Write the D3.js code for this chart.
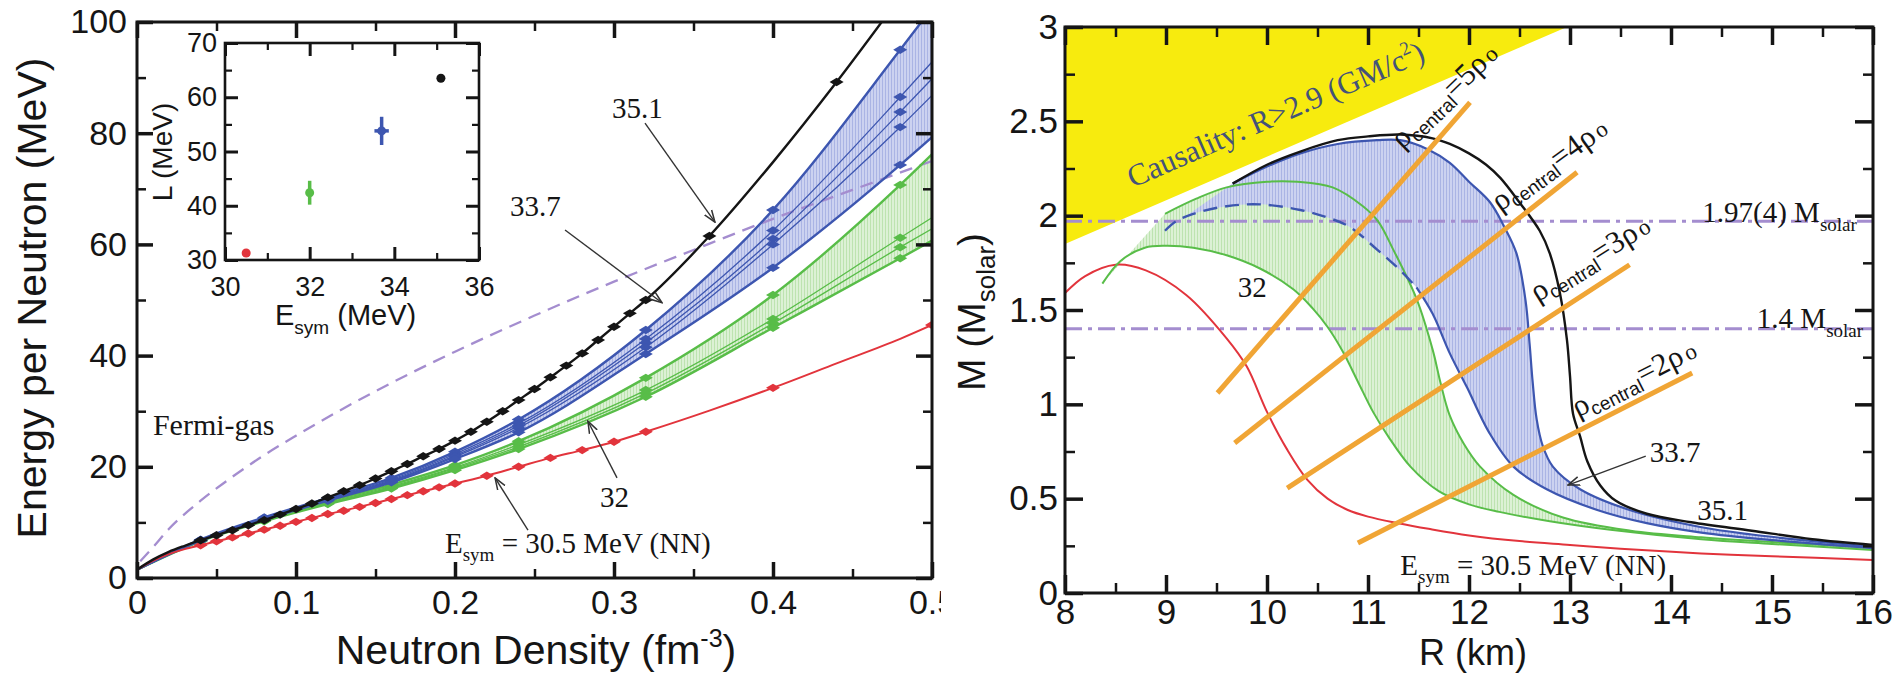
<!DOCTYPE html>
<html>
<head>
<meta charset="utf-8">
<script src="https://cdn.jsdelivr.net/npm/d3@7"></script>
<style>
  body { margin: 0; background: #fff; }
  svg { display: block; }
  .sans { font-family: "Liberation Sans", Arial, Helvetica, sans-serif; }
  .serif { font-family: "Liberation Serif", "Times New Roman", serif; }
  text { fill: #151515; }
</style>
</head>
<body>
<svg id="fig" width="1901" height="678"></svg>
<script>
// ===== Left panel: energy per neutron vs neutron density =====
const densityTicks = [0, 0.1, 0.2, 0.3, 0.4, 0.5];
const densityMinor = [0.05, 0.15, 0.25, 0.35, 0.45];
const energyTicks = [0, 20, 40, 60, 80, 100];
const energyMinor = [10, 30, 50, 70, 90];

// Esym = 35.1 MeV
const blackN = [0, 0.01, 0.02, 0.03, 0.04, 0.05, 0.06, 0.07, 0.08, 0.09, 0.10, 0.11, 0.12, 0.13,
  0.14, 0.15, 0.16, 0.17, 0.18, 0.19, 0.20, 0.21, 0.22, 0.23, 0.24, 0.25, 0.26, 0.27, 0.28,
  0.29, 0.30, 0.31, 0.32, 0.36, 0.40, 0.44, 0.48];
const blackE = [1.5, 3.3, 4.7, 5.8, 6.8, 7.7, 8.6, 9.5, 10.4, 11.4, 12.4, 13.4, 14.5, 15.6,
  16.7, 17.9, 19.2, 20.5, 21.9, 23.2, 24.7, 26.3, 28.1, 30.0, 32.0, 34.0, 36.1, 38.2, 40.4,
  42.8, 45.2, 47.6, 50.0, 61.5, 74.8, 89.2, 104.5];
const blackMarkN = [0.04, 0.05, 0.06, 0.07, 0.08, 0.09, 0.10, 0.11, 0.12, 0.13, 0.14, 0.15,
  0.16, 0.17, 0.18, 0.19, 0.20, 0.21, 0.22, 0.23, 0.24, 0.25, 0.26, 0.27, 0.28, 0.29, 0.30,
  0.31, 0.32, 0.36, 0.44];

// Esym = 30.5 MeV (NN only)
const redN = [0, 0.01, 0.02, 0.03, 0.04, 0.05, 0.06, 0.07, 0.08, 0.09, 0.10, 0.11, 0.12, 0.13,
  0.14, 0.15, 0.16, 0.17, 0.18, 0.19, 0.20, 0.22, 0.24, 0.26, 0.28, 0.30, 0.32, 0.36, 0.40,
  0.44, 0.48, 0.50];
const redE = [1.5, 3.1, 4.3, 5.2, 5.9, 6.6, 7.3, 8.0, 8.7, 9.4, 10.1, 10.8, 11.5, 12.1,
  12.8, 13.5, 14.2, 14.9, 15.6, 16.3, 17.0, 18.4, 20.0, 21.6, 23.0, 24.5, 26.3, 30.1, 34.2,
  38.6, 43.0, 45.5];
const redMarkN = [0.04, 0.05, 0.06, 0.07, 0.08, 0.09, 0.10, 0.11, 0.12, 0.13, 0.14, 0.15,
  0.16, 0.17, 0.18, 0.19, 0.20, 0.22, 0.24, 0.26, 0.28, 0.30, 0.32, 0.40, 0.50];

// Esym = 33.7 (blue) and 32 (green) bands: common density grid
const bandN = [0, 0.04, 0.08, 0.12, 0.16, 0.20, 0.24, 0.32, 0.40, 0.48, 0.50];
const bandMarkN = [0.04, 0.08, 0.12, 0.16, 0.20, 0.24, 0.32, 0.40, 0.48];
const blueTop = [1.5, 6.9, 10.9, 14.4, 18.0, 22.7, 28.5, 44.6, 66.2, 95.0, 102.5];
const blueM1  = [1.5, 6.8, 10.8, 14.2, 17.7, 22.3, 27.8, 43.0, 62.5, 86.5, 92.8];
const blueM2  = [1.5, 6.8, 10.7, 14.1, 17.5, 22.0, 27.4, 42.3, 61.0, 83.8, 89.8];
const blueM3  = [1.5, 6.7, 10.6, 14.0, 17.4, 21.8, 27.0, 41.5, 60.0, 81.1, 86.8];
const blueBot = [1.5, 6.7, 10.5, 13.9, 17.2, 21.4, 26.2, 40.3, 55.8, 74.3, 79.3];
const greenTop = [1.5, 6.8, 10.6, 13.8, 16.8, 20.3, 24.6, 36.0, 50.9, 70.7, 76.2];
const greenM1  = [1.5, 6.7, 10.4, 13.6, 16.5, 19.9, 24.0, 33.8, 46.6, 61.2, 64.8];
const greenM2  = [1.5, 6.6, 10.3, 13.4, 16.3, 19.7, 23.6, 33.2, 45.8, 59.5, 62.8];
const greenBot = [1.5, 6.6, 10.2, 13.3, 16.1, 19.4, 23.2, 32.6, 45.0, 57.5, 60.7];

// Free Fermi gas
const fermiN = [0.002, 0.01, 0.02, 0.04, 0.06, 0.08, 0.10, 0.15, 0.20, 0.25, 0.30, 0.35, 0.40, 0.45, 0.50];
const fermiE = [3.0, 5.5, 8.8, 13.9, 18.2, 22.1, 25.6, 33.6, 40.7, 47.2, 53.3, 59.0, 64.6, 69.8, 75.0];

// Inset: slope L vs symmetry energy
const insetEsym = [30.5, 32.0, 33.7, 35.1];
const insetL = [31.3, 42.4, 53.8, 63.5];
const insetLerr = [0, 2.2, 2.6, 0];
const insetEerr = [0, 0.05, 0.17, 0];
const insetXTicks = [30, 32, 34, 36];
const insetXMinor = [31, 33, 35];
const insetYTicks = [30, 40, 50, 60, 70];
const insetYMinor = [35, 45, 55, 65];

// ===== Right panel: mass-radius relations =====
const radiusTicks = [8, 9, 10, 11, 12, 13, 14, 15, 16];
const radiusMinor = [8.5, 9.5, 10.5, 11.5, 12.5, 13.5, 14.5, 15.5];
const massTicks = [0, 0.5, 1, 1.5, 2, 2.5, 3];
const massMinor = [0.25, 0.75, 1.25, 1.75, 2.25, 2.75];

const mrRedR = [8.0, 8.2, 8.5, 8.8, 9.2, 9.6, 9.8, 10.0, 10.2, 10.4, 10.6, 10.8, 11.0, 11.3,
  11.6, 12.0, 12.5, 13.0, 13.5, 14.3, 15.0, 16.0];
const mrRedM = [1.59, 1.68, 1.74, 1.71, 1.58, 1.35, 1.20, 0.96, 0.76, 0.60, 0.50, 0.44, 0.405,
  0.37, 0.34, 0.305, 0.275, 0.255, 0.235, 0.21, 0.195, 0.175];

const mrGreenLoR = [8.37, 8.55, 8.79, 9.0, 9.27, 9.6, 9.93, 10.26, 10.45, 10.6, 10.75, 10.9,
  11.05, 11.2, 11.42, 11.7, 12.0, 12.3, 12.8, 13.4, 14.3, 15.0, 16.0];
const mrGreenLoM = [1.64, 1.76, 1.83, 1.84, 1.83, 1.79, 1.72, 1.61, 1.51, 1.41, 1.28, 1.12,
  0.96, 0.83, 0.67, 0.54, 0.47, 0.43, 0.38, 0.335, 0.285, 0.26, 0.228];
const mrGreenHiR = [8.99, 9.3, 9.6, 10.0, 10.3, 10.65, 10.95, 11.1, 11.25, 11.48, 11.64, 11.72,
  11.81, 11.95, 12.11, 12.44, 12.93, 13.6, 14.3, 15.0, 16.0];
const mrGreenHiM = [2.01, 2.09, 2.15, 2.18, 2.18, 2.15, 2.05, 1.97, 1.82, 1.56, 1.29, 1.11,
  0.94, 0.79, 0.67, 0.52, 0.40, 0.33, 0.295, 0.27, 0.24];

const mrBlueDashR = [8.99, 9.1, 9.27, 9.6, 9.93, 10.33, 10.6, 10.82, 11.09, 11.3, 11.48];
const mrBlueDashM = [1.92, 1.97, 2.01, 2.05, 2.06, 2.03, 1.99, 1.94, 1.82, 1.72, 1.62];
const mrBlueInR = [11.48, 11.64, 11.81, 11.98, 12.2, 12.44, 12.77, 13.27, 13.76, 14.3, 15.0, 16.0];
const mrBlueInM = [1.62, 1.48, 1.27, 1.09, 0.85, 0.67, 0.55, 0.44, 0.37, 0.32, 0.28, 0.238];
const mrBlueOutR = [9.66, 10.0, 10.33, 10.7, 11.09, 11.32, 11.6, 11.81, 12.0, 12.21, 12.35,
  12.47, 12.56, 12.6, 12.63, 12.67, 12.73, 12.83, 13.1, 13.59, 14.29, 14.8, 15.4, 16.0];
const mrBlueOutM = [2.17, 2.26, 2.33, 2.38, 2.40, 2.40, 2.35, 2.28, 2.18, 2.07, 1.94, 1.80,
  1.55, 1.32, 1.12, 0.92, 0.78, 0.67, 0.55, 0.44, 0.35, 0.31, 0.275, 0.245];

const mrBlackR = [9.66, 10.0, 10.33, 10.7, 11.0, 11.32, 11.64, 11.81, 12.0, 12.17, 12.31, 12.5,
  12.7, 12.8, 12.9, 12.97, 13.0, 13.03, 13.1, 13.17, 13.3, 13.45, 13.76, 14.2, 14.8, 15.4, 16.0];
const mrBlackM = [2.17, 2.27, 2.34, 2.40, 2.42, 2.43, 2.41, 2.38, 2.33, 2.27, 2.20, 2.07,
  1.92, 1.80, 1.59, 1.34, 1.15, 0.95, 0.83, 0.70, 0.57, 0.49, 0.42, 0.375, 0.33, 0.285, 0.255];

// causality limit R > 2.9 GM/c^2
const causalR = [8, 12.97, 8];
const causalM = [1.85, 3.0, 3.0];

// observed masses
const obsMass = [1.97, 1.4];
const obsLabel = ["1.97(4) M", "1.4 M"];

// lines of constant central density
const rhoMultiple = ["5", "4", "3", "2"];
const rhoStartR = [9.51, 9.68, 10.2, 10.9];
const rhoStartM = [1.06, 0.795, 0.556, 0.265];
const rhoEndR = [12.01, 13.07, 13.59, 14.21];
const rhoEndM = [2.60, 2.23, 1.74, 1.166];

// ---------------------------------------------------------------
const zip = (a, b) => a.map((v, i) => [v, b[i]]);
const pick = (N, E, marks) => marks.map(m => {
  const i = N.findIndex(v => Math.abs(v - m) < 1e-9);
  return [N[i], E[i]];
});

const BLUE = "#3d56b0", GREEN = "#58bd48", RED = "#e2343c", INK = "#151515";
const LAV = "#a48dcf", ORANGE = "#f0a535";

const svg = d3.select("#fig");
svg.append("rect").attr("width", 1901).attr("height", 678).attr("fill", "#fff");
const defs = svg.append("defs");

function hatch(id, bg, fg) {
  const p = defs.append("pattern").attr("id", id).attr("patternUnits", "userSpaceOnUse")
    .attr("width", 3).attr("height", 3);
  p.append("rect").attr("width", 3).attr("height", 3).attr("fill", bg);
  p.append("rect").attr("width", 1).attr("height", 3).attr("fill", fg);
}
hatch("hatchBlue", "#ccd2f0", "#aab4e4");
hatch("hatchGreen", "#dcf1d5", "#bde3b0");

function clip(id, x, y, w, h) {
  defs.append("clipPath").attr("id", id).append("rect")
    .attr("x", x).attr("y", y).attr("width", w).attr("height", h);
}

defs.append("marker").attr("id", "arrow").attr("viewBox", "0 0 12 10")
  .attr("refX", 11).attr("refY", 5).attr("markerWidth", 13).attr("markerHeight", 11)
  .attr("markerUnits", "userSpaceOnUse").attr("orient", "auto")
  .append("path").attr("d", "M0,1 L11,5 L0,9").attr("fill", "none")
  .attr("stroke", "#333").attr("stroke-width", 1.4);

function drawAxes(g, x, y, spec) {
  const [xa, xb] = x.range(), [ya, yb] = y.range();
  const sides = [
    { gen: d3.axisBottom, s: x, t: `translate(0,${ya})`, maj: spec.xMaj, min: spec.xMin, lab: true, pad: spec.xPad },
    { gen: d3.axisTop, s: x, t: `translate(0,${yb})`, maj: spec.xMaj, min: spec.xMin, lab: false },
    { gen: d3.axisLeft, s: y, t: `translate(${xa},0)`, maj: spec.yMaj, min: spec.yMin, lab: true, pad: spec.yPad },
    { gen: d3.axisRight, s: y, t: `translate(${xb},0)`, maj: spec.yMaj, min: spec.yMin, lab: false }
  ];
  sides.forEach(sd => {
    const major = sd.gen(sd.s).tickValues(sd.maj).tickSizeInner(-spec.majLen).tickSizeOuter(0)
      .tickPadding(sd.lab ? sd.pad : 0).tickFormat(sd.lab ? (d => String(d)) : () => "");
    const minor = sd.gen(sd.s).tickValues(sd.min).tickSizeInner(-spec.minLen).tickSizeOuter(0)
      .tickFormat(() => "");
    const ga = g.append("g").attr("transform", sd.t).call(major);
    const gm = g.append("g").attr("transform", sd.t).call(minor);
    [ga, gm].forEach(a => {
      a.select(".domain").remove();
      a.attr("font-family", '"Liberation Sans", Arial, sans-serif')
        .attr("font-size", spec.font).attr("color", INK);
    });
    ga.selectAll("line").attr("stroke-width", spec.majW);
    gm.selectAll("line").attr("stroke-width", spec.minW);
  });
  g.append("rect").attr("x", xa).attr("y", yb).attr("width", xb - xa).attr("height", ya - yb)
    .attr("fill", "none").attr("stroke", INK).attr("stroke-width", spec.frameW);
}

function subText(g, x, y, size, cls, parts) {
  // parts: [text, shift] where shift >0 lowers (subscript), <0 raises (superscript)
  const t = g.append("text").attr("class", cls).attr("x", x).attr("y", y).attr("font-size", size);
  let cur = 0;
  parts.forEach(([s, sh, fs]) => {
    const sp = t.append("tspan").text(s).attr("dy", sh - cur);
    if (fs) sp.attr("font-size", fs);
    cur = sh;
  });
  return t;
}

// ================= LEFT PANEL =================
const xL = d3.scaleLinear().domain([0, 0.5]).range([137, 932]);
const yL = d3.scaleLinear().domain([0, 100]).range([578, 22]);
clip("clipPanelL", 0, 0, 941, 678);
clip("clipPlotL", 137, 22, 795, 556);

const left = svg.append("g").attr("clip-path", "url(#clipPanelL)");
const plotL = left.append("g").attr("clip-path", "url(#clipPlotL)");

const lineL = d3.line().x(d => xL(d[0])).y(d => yL(d[1])).curve(d3.curveMonotoneX);
const bandArea = (top, bot) => d3.area()
  .x(d => xL(d)).y0((d, i) => yL(bot[i])).y1((d, i) => yL(top[i]))
  .curve(d3.curveMonotoneX)(bandN);

plotL.append("path").attr("d", bandArea(greenTop, greenBot)).attr("fill", "url(#hatchGreen)");
plotL.append("path").attr("d", bandArea(blueTop, blueBot)).attr("fill", "url(#hatchBlue)");

plotL.append("path").attr("d", lineL(zip(fermiN, fermiE))).attr("fill", "none")
  .attr("stroke", LAV).attr("stroke-width", 2.3).attr("stroke-dasharray", "13,8");

function marks(g, pts, color) {
  g.append("g").selectAll("path").data(pts).join("path")
    .attr("d", "M-7,0 L0,-4.2 L7,0 L0,4.2 Z")
    .attr("transform", d => `translate(${xL(d[0])},${yL(d[1])})`)
    .attr("fill", color);
}

function band(lines, widths, color) {
  lines.forEach((E, k) => {
    plotL.append("path").attr("d", lineL(zip(bandN, E))).attr("fill", "none")
      .attr("stroke", color).attr("stroke-width", widths[k]);
  });
  lines.forEach(E => marks(plotL, pick(bandN, E, bandMarkN), color));
}
band([greenTop, greenM1, greenM2, greenBot], [2.4, 1.3, 1.3, 2.4], GREEN);
band([blueTop, blueM1, blueM2, blueM3, blueBot], [2.4, 1.3, 1.3, 1.3, 2.4], BLUE);

plotL.append("path").attr("d", lineL(zip(redN, redE))).attr("fill", "none")
  .attr("stroke", RED).attr("stroke-width", 2);
marks(plotL, pick(redN, redE, redMarkN), RED);

plotL.append("path").attr("d", lineL(zip(blackN, blackE))).attr("fill", "none")
  .attr("stroke", INK).attr("stroke-width", 2.4);
marks(plotL, pick(blackN, blackE, blackMarkN), INK);

drawAxes(left, xL, yL, {
  xMaj: densityTicks, xMin: densityMinor, yMaj: energyTicks, yMin: energyMinor,
  majLen: 16, minLen: 9, majW: 3.5, minW: 2.5, frameW: 3, font: 34, xPad: 12, yPad: 10
});

// annotations
const ann = left.append("g");
function arrowL(n0, e0, n1, e1) {
  ann.append("line").attr("x1", xL(n0)).attr("y1", yL(e0)).attr("x2", xL(n1)).attr("y2", yL(e1))
    .attr("stroke", "#333").attr("stroke-width", 1.4).attr("marker-end", "url(#arrow)");
}
ann.append("text").attr("class", "serif").attr("font-size", 29)
  .attr("x", xL(0.2987)).attr("y", yL(82.7)).text("35.1");
arrowL(0.3195, 81.8, 0.3635, 64.0);
ann.append("text").attr("class", "serif").attr("font-size", 29)
  .attr("x", xL(0.2346)).attr("y", yL(65.1)).text("33.7");
arrowL(0.2692, 62.6, 0.3302, 49.5);
ann.append("text").attr("class", "serif").attr("font-size", 29)
  .attr("x", xL(0.2912)).attr("y", yL(12.8)).text("32");
arrowL(0.3019, 18.0, 0.2836, 28.2);
subText(ann, xL(0.1937), yL(4.5), 29, "serif",
  [["E", 0], ["sym", 8, 19], [" = 30.5 MeV (NN)", 0]]);
arrowL(0.2459, 8.6, 0.2252, 18.0);
ann.append("text").attr("class", "serif").attr("font-size", 30)
  .attr("x", xL(0.01)).attr("y", yL(25.7)).text("Fermi-gas");

// axis titles
left.append("text").attr("class", "sans").attr("font-size", 41).attr("text-anchor", "middle")
  .attr("transform", "translate(46,298) rotate(-90)").text("Energy per Neutron (MeV)");
subText(left, 536, 664, 41, "sans", [["Neutron Density (fm", 0], ["-3", -17, 25], [")", 0]])
  .attr("text-anchor", "middle");

// ---- inset ----
const xI = d3.scaleLinear().domain([30, 36]).range([225, 479]);
const yI = d3.scaleLinear().domain([30, 70]).range([260, 43]);
const inset = left.append("g");
inset.append("rect").attr("x", 225).attr("y", 43).attr("width", 254).attr("height", 217).attr("fill", "#fff");
const insetColors = [RED, GREEN, BLUE, INK];
insetEsym.forEach((e, i) => {
  const cx = xI(e), cy = yI(insetL[i]);
  if (insetLerr[i] > 0) {
    inset.append("line").attr("x1", cx).attr("x2", cx)
      .attr("y1", yI(insetL[i] - insetLerr[i])).attr("y2", yI(insetL[i] + insetLerr[i]))
      .attr("stroke", insetColors[i]).attr("stroke-width", 3.5);
  }
  if (insetEerr[i] > 0) {
    inset.append("line").attr("y1", cy).attr("y2", cy)
      .attr("x1", xI(e - insetEerr[i])).attr("x2", xI(e + insetEerr[i]))
      .attr("stroke", insetColors[i]).attr("stroke-width", 3.5);
  }
  inset.append("circle").attr("cx", cx).attr("cy", cy).attr("r", 4.5).attr("fill", insetColors[i]);
});
drawAxes(inset, xI, yI, {
  xMaj: insetXTicks, xMin: insetXMinor, yMaj: insetYTicks, yMin: insetYMinor,
  majLen: 13, minLen: 7, majW: 3, minW: 2.2, frameW: 2.6, font: 27, xPad: 17, yPad: 8
});
inset.append("text").attr("class", "sans").attr("font-size", 28).attr("text-anchor", "middle")
  .attr("transform", "translate(172,152) rotate(-90)").text("L (MeV)");
subText(inset, 275, 325, 29, "sans", [["E", 0], ["sym", 9, 19], [" (MeV)", 0]]);

// ================= RIGHT PANEL =================
const xR = d3.scaleLinear().domain([8, 16]).range([1065, 1873]);
const yR = d3.scaleLinear().domain([0, 3]).range([593, 27]);
clip("clipPlotR", 1065, 27, 808, 566);

const right = svg.append("g");
const plotR = right.append("g").attr("clip-path", "url(#clipPlotR)");
const lineR = d3.line().x(d => xR(d[0])).y(d => yR(d[1])).curve(d3.curveCatmullRom.alpha(0.5));
const straight = d3.line().x(d => xR(d[0])).y(d => yR(d[1]));

// causality region
plotR.append("path").attr("d", straight(zip(causalR, causalM)) + "Z").attr("fill", "#f7eb0e");

// shaded bands
const rev = a => a.slice().reverse();
const greenPoly = lineR(zip(mrGreenLoR, mrGreenLoM)) + "L" +
  lineR(rev(zip(mrGreenHiR, mrGreenHiM))).slice(1) + "Z";
plotR.append("path").attr("d", greenPoly).attr("fill", "url(#hatchGreen)");
const bluePoly = lineR(zip(mrBlueOutR, mrBlueOutM)) + "L" +
  lineR(rev(zip(mrBlueInR, mrBlueInM))).slice(1) + "L" +
  lineR(rev(zip(mrBlueDashR, mrBlueDashM))).slice(1) + "Z";
plotR.append("path").attr("d", bluePoly).attr("fill", "url(#hatchBlue)");

// observed mass lines
obsMass.forEach(m => {
  plotR.append("path").attr("d", straight([[8, m], [16, m]])).attr("fill", "none")
    .attr("stroke", LAV).attr("stroke-width", 3).attr("stroke-dasharray", "17,6,4,6");
});

// mass-radius curves
function curveR(R, M, color, w, dash) {
  const p = plotR.append("path").attr("d", lineR(zip(R, M))).attr("fill", "none")
    .attr("stroke", color).attr("stroke-width", w);
  if (dash) p.attr("stroke-dasharray", dash);
}
curveR(mrRedR, mrRedM, RED, 2, null);
curveR(mrGreenLoR, mrGreenLoM, GREEN, 2, null);
curveR(mrGreenHiR, mrGreenHiM, GREEN, 2, null);
curveR(mrBlueDashR, mrBlueDashM, BLUE, 2.4, "14,8");
curveR(mrBlueInR, mrBlueInM, BLUE, 2.2, null);
curveR(mrBlueOutR, mrBlueOutM, BLUE, 2.2, null);
curveR(mrBlackR, mrBlackM, INK, 2.4, null);

// constant central density lines
rhoMultiple.forEach((k, i) => {
  plotR.append("path").attr("d", straight([[rhoStartR[i], rhoStartM[i]], [rhoEndR[i], rhoEndM[i]]]))
    .attr("stroke", ORANGE).attr("stroke-width", 5).attr("fill", "none");
});

drawAxes(right, xR, yR, {
  xMaj: radiusTicks, xMin: radiusMinor, yMaj: massTicks, yMin: massMinor,
  majLen: 18, minLen: 10, majW: 3.5, minW: 2.5, frameW: 3, font: 35, xPad: 6, yPad: 7
});

// annotations
const annR = right.append("g");
const causal = annR.append("text").attr("class", "serif").attr("font-size", 31)
  .attr("transform", `translate(${xR(8.67)},${yR(2.147)}) rotate(-23.5)`);
causal.append("tspan").text("Causality: R>2.9 (GM/c").style("fill", "#44527a");
causal.append("tspan").text("2").attr("font-size", 19).attr("dy", -13).style("fill", "#44527a");
causal.append("tspan").text(")").attr("dy", 13).style("fill", "#44527a");

// rho labels along the orange lines
const rhoLabelAt = [[11.34, 2.35, -44], [12.31, 2.02, -36], [12.68, 1.54, -32], [13.08, 0.93, -27]];
rhoMultiple.forEach((k, i) => {
  const [r, m, a] = rhoLabelAt[i];
  const t = annR.append("text").attr("class", "serif").attr("font-size", 31)
    .attr("transform", `translate(${xR(r)},${yR(m)}) rotate(${a})`);
  t.append("tspan").text("ρ");
  t.append("tspan").attr("class", "sans").attr("font-size", 19).attr("dy", 6).text("central");
  t.append("tspan").attr("dy", -6).text("=" + k + "ρ");
  t.append("tspan").attr("font-size", 23).attr("dx", 3).text("o");
});

obsMass.forEach((m, i) => {
  const at = i === 0 ? [14.31, 1.966] : [14.85, 1.405];
  subText(annR, xR(at[0]), yR(at[1]), 29, "serif", [[obsLabel[i], 0], ["solar", 9, 19]]);
});

annR.append("text").attr("class", "serif").attr("font-size", 29)
  .attr("x", xR(9.71)).attr("y", yR(1.57)).text("32");
annR.append("text").attr("class", "serif").attr("font-size", 29)
  .attr("x", xR(13.79)).attr("y", yR(0.694)).text("33.7");
annR.append("line").attr("x1", xR(13.75)).attr("y1", yR(0.725)).attr("x2", xR(12.98)).attr("y2", yR(0.572))
  .attr("stroke", "#333").attr("stroke-width", 1.4).attr("marker-end", "url(#arrow)");
annR.append("text").attr("class", "serif").attr("font-size", 29)
  .attr("x", xR(14.26)).attr("y", yR(0.387)).text("35.1");
subText(annR, xR(11.32), yR(0.095), 29, "serif",
  [["E", 0], ["sym", 8, 19], [" = 30.5 MeV (NN)", 0]]);

// axis titles
subText(right, 0, 0, 39, "sans", [["M (M", 0], ["solar", 10, 26], [")", 0]])
  .attr("text-anchor", "middle").attr("transform", "translate(985,312) rotate(-90)");
right.append("text").attr("class", "sans").attr("font-size", 36).attr("text-anchor", "middle")
  .attr("x", 1473).attr("y", 665).text("R (km)");
</script>
</body>
</html>
